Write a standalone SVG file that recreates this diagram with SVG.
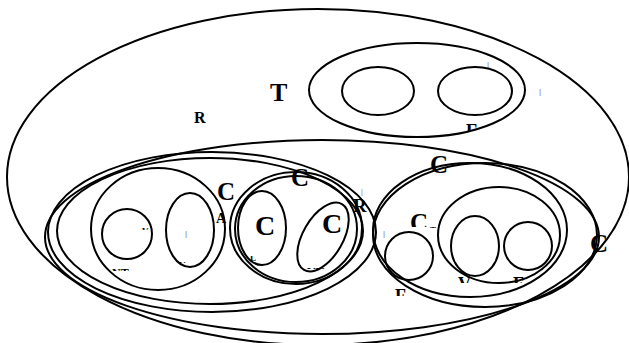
<svg xmlns="http://www.w3.org/2000/svg" width="629" height="343" viewBox="0 0 629 343">
<style>
.s{fill:none;stroke:#000;stroke-width:2}
.b{font-family:"Liberation Serif","Times New Roman",serif;font-weight:bold;fill:#000}
.t{font-family:"Liberation Sans",Arial,sans-serif;fill:#777}
</style>
<defs>
<clipPath id="c1"><rect x="400" y="90" width="30" height="11"/></clipPath>
<clipPath id="c2"><rect x="460" y="120" width="30" height="11"/></clipPath>
<clipPath id="c3"><rect x="390" y="285" width="30" height="11"/></clipPath>
<clipPath id="c4"><rect x="450" y="270" width="30" height="13"/></clipPath>
<clipPath id="c5"><rect x="505" y="270" width="30" height="13"/></clipPath>
<clipPath id="c6"><rect x="105" y="260" width="30" height="11"/></clipPath>
<clipPath id="c7"><rect x="135" y="220" width="20" height="10"/></clipPath>
<clipPath id="c8"><rect x="175" y="255" width="20" height="8"/></clipPath>
<clipPath id="c9"><rect x="280" y="220" width="25" height="12"/></clipPath>
<clipPath id="c10"><rect x="245" y="256" width="20" height="5"/></clipPath>
<clipPath id="c11"><rect x="300" y="260" width="30" height="9"/></clipPath>
<clipPath id="c12"><rect x="420" y="215" width="25" height="13"/></clipPath>
<clipPath id="c13"><rect x="400" y="200" width="40" height="27"/></clipPath>
</defs>
<g id="connectors"></g>
<g id="root">
<ellipse class="s" cx="318" cy="177" rx="311" ry="168"/>
<text class="b" x="194" y="123" font-size="16">R</text>
<text class="b" x="270" y="101" font-size="26">T</text>
</g>
<g id="top-group">
<ellipse class="s" cx="417" cy="90" rx="108" ry="47"/>
<text class="b" x="412" y="108" font-size="12" clip-path="url(#c1)">o</text>
<text class="b" x="466" y="137" font-size="18" clip-path="url(#c2)">E</text>
<text class="t" x="487" y="67" font-size="8">|</text>
<text class="t" x="539" y="94" font-size="8">|</text>
</g>
<g id="top-a"><ellipse class="s" cx="378" cy="91" rx="36" ry="24"/></g>
<g id="top-b"><ellipse class="s" cx="475" cy="91" rx="37" ry="24"/></g>
<g id="big-1"><ellipse class="s" cx="322" cy="237" rx="277" ry="97"/>
<text class="b" x="590" y="252" font-size="25">C</text></g>
<g id="left-group">
<ellipse class="s" cx="212" cy="232" rx="164" ry="80"/>
<ellipse class="s" cx="210" cy="231" rx="153" ry="73"/>
<text class="b" x="217" y="200" font-size="25">C</text>
<text class="b" x="216" y="223" font-size="14">A</text>
</g>
<g id="left-sub">
<ellipse class="s" cx="158" cy="229" rx="67" ry="61"/>
<text class="b" x="112" y="277" font-size="12" clip-path="url(#c6)">NT</text>
</g>
<g id="left-sub-a"><circle class="s" cx="127" cy="234" r="25"/>
<text class="b" x="142" y="234" font-size="9" clip-path="url(#c7)">V</text></g>
<g id="left-sub-b"><ellipse class="s" cx="190" cy="230" rx="24" ry="37"/>
<text class="t" x="185" y="236" font-size="8">|</text>
<text class="b" x="179" y="268" font-size="9" clip-path="url(#c8)">V</text></g>
<g id="mid-group">
<ellipse class="s" cx="296" cy="228" rx="66" ry="56"/>
<ellipse class="s" cx="296" cy="229" rx="61" ry="53"/>
<text class="b" x="291" y="186" font-size="25">C</text>
<text class="b" x="353" y="212" font-size="19">R</text>
<text class="t" x="361" y="194" font-size="7">|</text>
<text class="b" x="288" y="240" font-size="12" clip-path="url(#c9)">o</text>
</g>
<g id="mid-a"><ellipse class="s" cx="262" cy="228" rx="24" ry="37"/>
<text class="b" x="255" y="235" font-size="28">C</text>
<text class="b" x="250" y="261" font-size="9" clip-path="url(#c10)">L</text></g>
<g id="mid-b"><ellipse class="s" cx="323" cy="237" rx="20" ry="38" transform="rotate(30 323 237)"/>
<text class="b" x="322" y="233" font-size="28">C</text>
<text class="b" x="307" y="276" font-size="12" clip-path="url(#c11)">VV</text></g>
<g id="right-group">
<ellipse class="s" cx="485" cy="235" rx="112" ry="72"/>
<ellipse class="s" cx="470" cy="230" rx="97" ry="67"/>
<text class="b" x="430" y="173" font-size="25">C</text>
<text class="b" x="410" y="231" font-size="25" clip-path="url(#c13)">C</text>
<text class="b" x="430" y="233" font-size="9" clip-path="url(#c12)">T</text>
<text class="t" x="383" y="236" font-size="8">|</text>
<text class="b" x="395" y="302" font-size="18" clip-path="url(#c3)">F</text>
</g>
<g id="right-inner"><ellipse class="s" cx="499" cy="235" rx="61" ry="48"/>
<text class="b" x="458" y="290" font-size="18" clip-path="url(#c4)">V</text>
<text class="b" x="513" y="290" font-size="18" clip-path="url(#c5)">F</text></g>
<g id="right-a"><circle class="s" cx="409" cy="256" r="24"/></g>
<g id="right-b"><ellipse class="s" cx="475" cy="246" rx="24" ry="30"/></g>
<g id="right-c"><circle class="s" cx="528" cy="246" r="24"/></g>
</svg>
